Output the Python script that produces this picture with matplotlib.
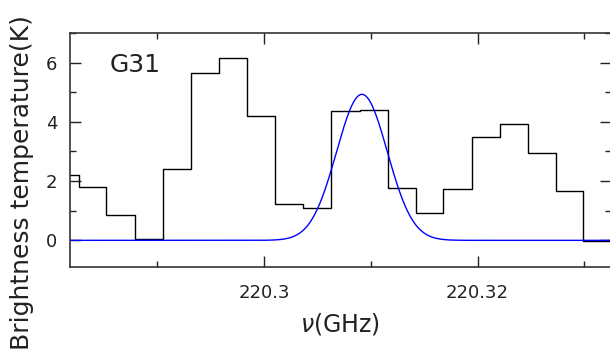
import numpy as np
import matplotlib
matplotlib.use("Agg")
import matplotlib.pyplot as plt
from matplotlib.ticker import MultipleLocator

plt.rcParams['font.family'] = ['DejaVu Sans']

# channel centres (GHz) and brightness temperature (K)
freq = [220.2813, 220.2839, 220.2865, 220.2892, 220.2918, 220.2945, 220.2971,
        220.2997, 220.3023, 220.3050, 220.3076, 220.3103, 220.3129, 220.3155,
        220.3181, 220.3208, 220.3234, 220.3260, 220.3286, 220.3312, 220.3338]
tb = [2.20, 1.80, 0.87, 0.03, 2.42, 5.66, 6.14,
      4.20, 1.22, 1.09, 4.37, 4.41, 1.77, 0.92,
      1.73, 3.50, 3.93, 2.95, 1.66, -0.02, 0.00]

# gaussian fit
fit_amp = 4.93
fit_center = 220.30916
fit_sigma = 0.00238

fig = plt.figure(figsize=(6.1, 3.52), dpi=100)
ax = fig.add_axes([70/610, 1-267/352, 541/610, 234/352])

ax.step(freq, tb, where='mid', color='black', lw=1.0)
xf = np.linspace(220.28, 220.335, 800)
ax.plot(xf, fit_amp*np.exp(-0.5*((xf-fit_center)/fit_sigma)**2), color='#0000ff', lw=1.0)

ax.set_xlim(220.2818, 220.3325)
ax.set_ylim(-0.9, 7.0)
ax.xaxis.set_major_locator(MultipleLocator(0.02))
ax.xaxis.set_minor_locator(MultipleLocator(0.01))
ax.yaxis.set_major_locator(MultipleLocator(2))
ax.yaxis.set_minor_locator(MultipleLocator(1))
ax.xaxis.set_major_formatter(plt.FuncFormatter(lambda v, p: ('%.2f' % v).rstrip('0')))
ax.tick_params(which='both', direction='in', top=True, right=True, labelsize=13, colors='#222222')
ax.tick_params(which='major', length=8, width=1.0)
ax.tick_params(which='minor', length=4.3, width=1.0)
ax.tick_params(axis='x', pad=12)
ax.tick_params(axis='y', pad=9)
for s in ax.spines.values():
    s.set_linewidth(1.2)
    s.set_color('#333333')

fig.text(340/610, 1-324/352, r'$\nu$(GHz)', fontsize=17, ha='center', va='center', color='#222222')
fig.text(22/610, 1-183/352, 'Brightness temperature(K)', fontsize=18, rotation=90,
         ha='center', va='center', color='#222222')
ax.text(0.073, 0.915, 'G31', transform=ax.transAxes, fontsize=18, va='top', ha='left', color='#222222')

fig.savefig('out.png', dpi=100)
